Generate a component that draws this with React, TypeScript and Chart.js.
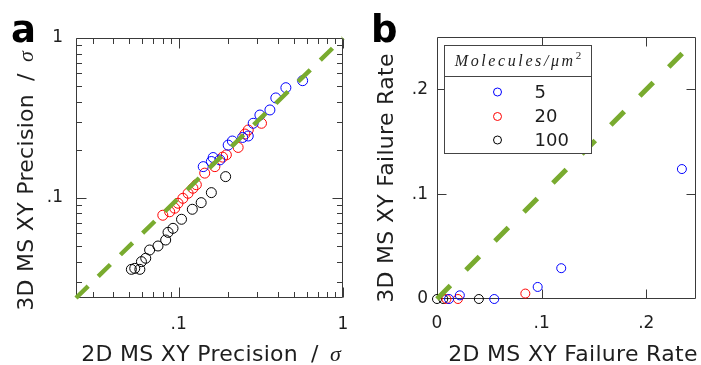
import React, { useEffect, useRef } from 'react';
import { Chart, registerables } from 'chart.js';

Chart.register(...registerables);

const SANS = '"DejaVu Sans", "Liberation Sans", sans-serif';
const SERIF = '"Liberation Serif", "DejaVu Serif", serif';
const TEXT = '#1e1e1e';
const FRAME = '#3a3a3a';
const GREEN = '#79ab2f';
const BLUE = '#0000ff';
const RED = '#ff0000';
const BLACK = '#000000';

// ---------- Panel a: XY precision (units of sigma), log-log ----------
const precMin = 0.0237;
const precMax = 1;
const precTickValues = [0.1, 1];
const precTickLabels = ['.1', '1'];
const precMinorTicks = [0.03, 0.04, 0.05, 0.06, 0.07, 0.08, 0.09, 0.2, 0.3, 0.4, 0.5, 0.6, 0.7, 0.8, 0.9];

// 5 molecules / um^2
const prec5_2D = [0.568, 0.449, 0.390, 0.359, 0.312, 0.284, 0.265, 0.245, 0.212, 0.200, 0.178, 0.162, 0.158, 0.141];
const prec5_3D = [0.541, 0.489, 0.422, 0.355, 0.330, 0.293, 0.244, 0.239, 0.227, 0.214, 0.173, 0.179, 0.169, 0.157];
// 20 molecules / um^2
const prec20_2D = [0.319, 0.265, 0.253, 0.230, 0.195, 0.185, 0.166, 0.144, 0.128, 0.122, 0.114, 0.106, 0.099, 0.0945, 0.0881, 0.080];
const prec20_3D = [0.293, 0.266, 0.251, 0.207, 0.186, 0.180, 0.157, 0.143, 0.121, 0.115, 0.107, 0.0995, 0.0927, 0.0863, 0.082, 0.078];
// 100 molecules / um^2
const prec100_2D = [0.193, 0.158, 0.137, 0.121, 0.104, 0.0923, 0.0861, 0.0833, 0.0748, 0.0665, 0.063, 0.0593, 0.058, 0.0515, 0.054];
const prec100_3D = [0.136, 0.108, 0.0935, 0.085, 0.0736, 0.0646, 0.061, 0.0546, 0.0501, 0.0473, 0.042, 0.040, 0.0358, 0.0358, 0.0363];

// ---------- Panel b: XY failure rate, linear ----------
const failXMax = 0.247;
const failYMax = 0.25;
const failTickValues = [0, 0.1, 0.2];
const failTickLabels = ['0', '.1', '.2'];
const failIdentityEnd = 0.235;

const fail5_2D = [0.0115, 0.0218, 0.0547, 0.0962, 0.1187, 0.234];
const fail5_3D = [0, 0.0035, 0, 0.0115, 0.0294, 0.124];
const fail20_2D = [0.009, 0.020, 0.0844];
const fail20_3D = [0, 0, 0.0052];
const fail100_2D = [0, 0.006, 0.040];
const fail100_3D = [0, 0, 0];

const densityLabels = ['5', '20', '100'];
const densityColors = [BLUE, RED, BLACK];

const toPoints = (xs: number[], ys: number[]) => xs.map((x, i) => ({ x, y: ys[i] }));

type Part = { text: string; font: string; dy?: number; dx?: number; ls?: string };

function drawParts(ctx: CanvasRenderingContext2D, parts: Part[], x: number, y: number, align: 'center' | 'left') {
  const c = ctx as any;
  ctx.textAlign = 'left';
  ctx.textBaseline = 'alphabetic';
  const widths = parts.map((p) => {
    ctx.font = p.font;
    c.letterSpacing = p.ls || '0px';
    return ctx.measureText(p.text).width + (p.dx || 0);
  });
  const total = widths.reduce((a, b) => a + b, 0);
  let cx = align === 'center' ? x - total / 2 : x;
  parts.forEach((p, i) => {
    ctx.font = p.font;
    c.letterSpacing = p.ls || '0px';
    ctx.fillText(p.text, cx + (p.dx || 0), y + (p.dy || 0));
    cx += widths[i];
  });
  c.letterSpacing = '0px';
}

function framePlugin(opts: {
  majorX: number[];
  minorX: number[];
  majorY: number[];
  minorY: number[];
  majorLen: number;
  minorLen: number;
}) {
  return {
    id: 'frameTicks',
    beforeDatasetsDraw(chart: any) {
      const { ctx, chartArea: a, scales } = chart;
      ctx.save();
      ctx.strokeStyle = FRAME;
      ctx.lineWidth = 1;
      const L = Math.round(a.left) + 0.5;
      const R = Math.round(a.right) - 0.5;
      const T = Math.round(a.top) + 0.5;
      const B = Math.round(a.bottom) - 0.5;
      ctx.beginPath();
      ctx.rect(L, T, R - L, B - T);
      ctx.stroke();
      ctx.beginPath();
      const xt = (vals: number[], len: number) => {
        vals.forEach((v) => {
          const p = Math.round(scales.x.getPixelForValue(v)) + 0.5;
          ctx.moveTo(p, B);
          ctx.lineTo(p, B - len);
          ctx.moveTo(p, T);
          ctx.lineTo(p, T + len);
        });
      };
      const yt = (vals: number[], len: number) => {
        vals.forEach((v) => {
          const p = Math.round(scales.y.getPixelForValue(v)) + 0.5;
          ctx.moveTo(L, p);
          ctx.lineTo(L + len, p);
          ctx.moveTo(R, p);
          ctx.lineTo(R - len, p);
        });
      };
      xt(opts.majorX, opts.majorLen);
      xt(opts.minorX, opts.minorLen);
      yt(opts.majorY, opts.majorLen);
      yt(opts.minorY, opts.minorLen);
      ctx.stroke();
      ctx.restore();
    },
  };
}

function textPlugin(opts: {
  letter: string;
  letterX: number;
  xTitle: Part[];
  xTitleX: number;
  xTitleY: number;
  yTitle: Part[];
  yTitleX: number;
  yTitleY: number;
  legend?: boolean;
}) {
  return {
    id: 'texts',
    afterDraw(chart: any) {
      const { ctx, chartArea: a } = chart;
      ctx.save();
      ctx.fillStyle = BLACK;
      drawParts(ctx, [{ text: opts.letter, font: `bold 37px ${SANS}` }], opts.letterX, 42, 'left');
      ctx.fillStyle = TEXT;
      drawParts(ctx, opts.xTitle, opts.xTitleX, opts.xTitleY, 'center');
      ctx.save();
      ctx.translate(opts.yTitleX, opts.yTitleY);
      ctx.rotate(-Math.PI / 2);
      drawParts(ctx, opts.yTitle, 0, 0, 'center');
      ctx.restore();

      if (opts.legend) {
        const lx = Math.round(a.left) + 7.5;
        const ly = Math.round(a.top) + 8.5;
        const lw = 147;
        const lh = 108;
        ctx.fillStyle = '#ffffff';
        ctx.fillRect(lx, ly, lw, lh);
        ctx.strokeStyle = '#444444';
        ctx.lineWidth = 1;
        ctx.strokeRect(lx, ly, lw, lh);
        ctx.beginPath();
        ctx.moveTo(lx, ly + 31);
        ctx.lineTo(lx + lw, ly + 31);
        ctx.stroke();
        ctx.fillStyle = TEXT;
        drawParts(
          ctx,
          [
            { text: 'Molecules/μm', font: `italic 16px ${SERIF}`, ls: '2.6px' },
            { text: '2', font: `11px ${SERIF}`, dy: -7 },
          ],
          lx + lw / 2,
          ly + 20,
          'center'
        );
        const rows = [46.5, 71, 94.5];
        densityLabels.forEach((lab, i) => {
          const cy = ly + rows[i];
          ctx.beginPath();
          ctx.strokeStyle = densityColors[i];
          ctx.lineWidth = 1;
          ctx.arc(lx + 53, cy, 4, 0, Math.PI * 2);
          ctx.stroke();
          ctx.fillStyle = TEXT;
          ctx.font = `18px ${SANS}`;
          ctx.textAlign = 'left';
          ctx.textBaseline = 'middle';
          ctx.fillText(lab, lx + 90, cy + 1);
        });
      }
      ctx.restore();
    },
  };
}

function scatterSet(xs: number[], ys: number[], color: string, r: number) {
  return {
    data: toPoints(xs, ys),
    borderColor: color,
    backgroundColor: 'rgba(0,0,0,0)',
    pointBackgroundColor: 'rgba(0,0,0,0)',
    pointBorderColor: color,
    pointBorderWidth: 1,
    pointRadius: r,
    pointStyle: 'circle',
    showLine: false,
    clip: false,
  };
}

function identitySet(a: number, b: number, dash: number[], width: number) {
  return {
    data: [
      { x: a, y: a },
      { x: b, y: b },
    ],
    showLine: true,
    borderColor: GREEN,
    backgroundColor: GREEN,
    borderWidth: width,
    borderDash: dash,
    borderCapStyle: 'butt',
    pointRadius: 0,
    clip: false,
  };
}

const tickFont = () => ({ family: SANS, size: 17 });

const zeroPad = (s: any) => {
  s.paddingLeft = 0;
  s.paddingRight = 0;
  s.paddingTop = 0;
  s.paddingBottom = 0;
};

function axis(type: string, min: number, max: number, values: number[], labels: string[], pad: number, fit: (s: any) => void) {
  return {
    type,
    min,
    max,
    border: { display: false },
    grid: { display: false, drawTicks: false },
    ticks: {
      font: tickFont(),
      color: TEXT,
      padding: pad,
      autoSkip: false,
      maxRotation: 0,
      minRotation: 0,
      callback: (v: any) => {
        const i = values.indexOf(Number(v));
        return i >= 0 ? labels[i] : '';
      },
    },
    afterBuildTicks: (s: any) => {
      s.ticks = values.map((value) => ({ value }));
    },
    afterFit: (s: any) => {
      fit(s);
      zeroPad(s);
    },
  };
}

const TITLE_FONT = `22px ${SANS}`;
const TITLE_LS = '0.3px';

export default function App() {
  const refA = useRef<HTMLCanvasElement>(null);
  const refB = useRef<HTMLCanvasElement>(null);

  useEffect(() => {
    const chartA = new Chart(refA.current as HTMLCanvasElement, {
      type: 'scatter',
      data: {
        datasets: [
          identitySet(precMin, precMax, [17, 14], 4.5),
          scatterSet(prec5_2D, prec5_3D, BLUE, 5),
          scatterSet(prec20_2D, prec20_3D, RED, 5),
          scatterSet(prec100_2D, prec100_3D, BLACK, 5),
        ] as any,
      },
      options: {
        animation: false,
        responsive: false,
        maintainAspectRatio: false,
        layout: { padding: { left: 0, right: 17, top: 38, bottom: 0 } },
        plugins: { legend: { display: false }, tooltip: { enabled: false } },
        scales: {
          x: axis('logarithmic', precMin, precMax, precTickValues, precTickLabels, 16, (s) => {
            s.height = 67;
          }),
          y: axis('logarithmic', precMin, precMax, precTickValues, precTickLabels, 13, (s) => {
            s.width = 76;
          }),
        } as any,
      },
      plugins: [
        framePlugin({
          majorX: precTickValues,
          minorX: precMinorTicks,
          majorY: precTickValues,
          minorY: precMinorTicks,
          majorLen: 10,
          minorLen: 5.5,
        }),
        textPlugin({
          letter: 'a',
          letterX: 11,
          xTitle: [
            { text: '2D MS XY Precision', font: TITLE_FONT, ls: TITLE_LS },
            { text: ' /', font: TITLE_FONT, dx: 6 },
            { text: ' σ', font: `italic 22px ${SERIF}`, dx: 6 },
          ],
          xTitleX: 211,
          xTitleY: 361,
          yTitle: [
            { text: '3D MS XY Precision', font: TITLE_FONT, ls: TITLE_LS },
            { text: ' /', font: TITLE_FONT, dx: 6 },
            { text: ' σ', font: `italic 22px ${SERIF}`, dx: 6 },
          ],
          yTitleX: 33,
          yTitleY: 181,
        }),
      ],
    } as any);

    const chartB = new Chart(refB.current as HTMLCanvasElement, {
      type: 'scatter',
      data: {
        datasets: [
          identitySet(0, failIdentityEnd, [19, 22], 5),
          scatterSet(fail5_2D, fail5_3D, BLUE, 4.5),
          scatterSet(fail20_2D, fail20_3D, RED, 4.5),
          scatterSet(fail100_2D, fail100_3D, BLACK, 4.5),
        ] as any,
      },
      options: {
        animation: false,
        responsive: false,
        maintainAspectRatio: false,
        layout: { padding: { left: 0, right: 1, top: 37, bottom: 0 } },
        plugins: { legend: { display: false }, tooltip: { enabled: false } },
        scales: {
          x: axis('linear', 0, failXMax, failTickValues, failTickLabels, 14, (s) => {
            s.height = 66;
          }),
          y: axis('linear', 0, failYMax, failTickValues, failTickLabels, 9, (s) => {
            s.width = 77;
          }),
        } as any,
      },
      plugins: [
        framePlugin({
          majorX: [0.1, 0.2],
          minorX: [],
          majorY: [0.1, 0.2],
          minorY: [],
          majorLen: 9,
          minorLen: 5,
        }),
        textPlugin({
          letter: 'b',
          letterX: 11,
          xTitle: [{ text: '2D MS XY Failure Rate', font: TITLE_FONT, ls: TITLE_LS }],
          xTitleX: 213,
          xTitleY: 361,
          yTitle: [{ text: '3D MS XY Failure Rate', font: TITLE_FONT, ls: TITLE_LS }],
          yTitleX: 33,
          yTitleY: 178,
          legend: true,
        }),
      ],
    } as any);

    return () => {
      chartA.destroy();
      chartB.destroy();
    };
  }, []);

  return (
    <div
      style={{
        position: 'fixed',
        left: 0,
        top: 0,
        width: 701,
        height: 365,
        background: '#ffffff',
        overflow: 'hidden',
      }}
    >
      <canvas
        ref={refA}
        width={360}
        height={365}
        style={{ position: 'absolute', left: 0, top: 0, width: 360, height: 365 }}
      />
      <canvas
        ref={refB}
        width={341}
        height={365}
        style={{ position: 'absolute', left: 360, top: 0, width: 341, height: 365 }}
      />
    </div>
  );
}
